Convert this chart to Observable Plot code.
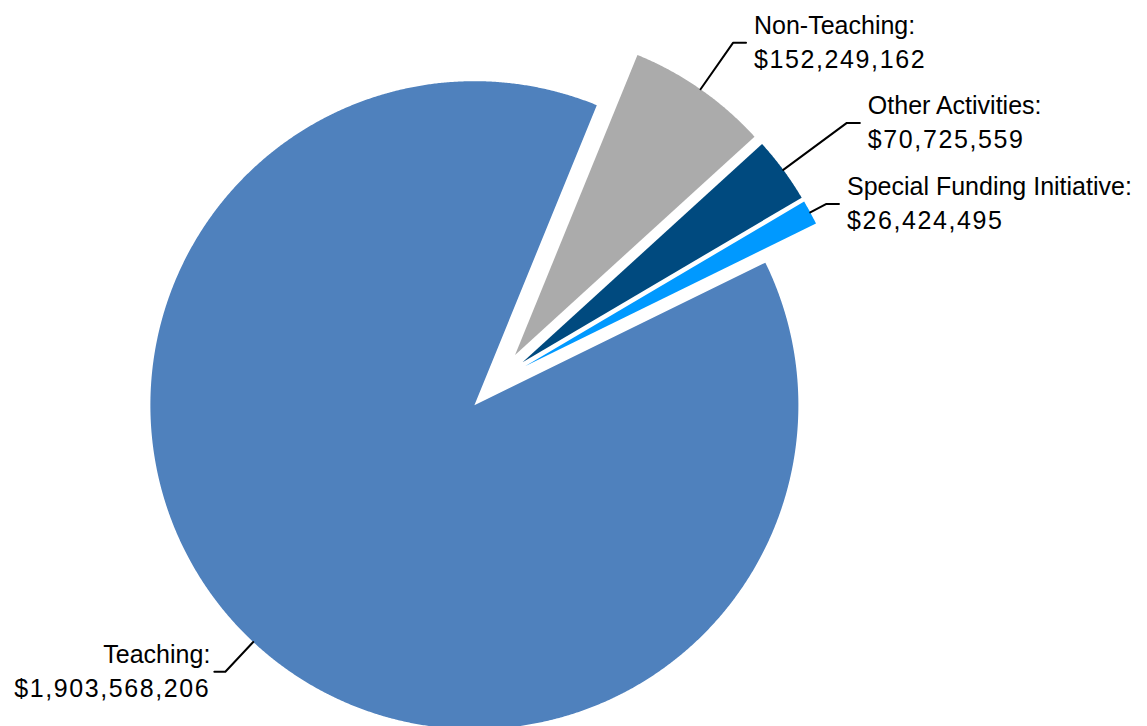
<!DOCTYPE html>
<html><head><meta charset="utf-8">
<script src="https://cdn.jsdelivr.net/npm/d3@7"></script>
<script src="https://cdn.jsdelivr.net/npm/@observablehq/plot@0.6"></script>
<style>body{margin:0;background:#fff;} #chart svg{display:block}</style>
</head><body><div id="chart"></div>
<script>
// ---- data ----
const categories = ["Teaching", "Non-Teaching", "Other Activities", "Special Funding Initiative"];
const values = [1903568206, 152249162, 70725559, 26424495];
const valueLabels = ["$1,903,568,206", "$152,249,162", "$70,725,559", "$26,424,495"];
const colors = ["#4F81BD", "#ABABAB", "#004A7F", "#0099FF"];

// ---- layout ----
const W = 1147, H = 726, cx = 496, cy = 381, R = 324;
const startDeg = 63.9;
const explode = 0.1;
const leaderRadius = [1.126, 1.175, 1.244, 1.055];
const hookPx = [11, 13, 13, 13];

const a0 = startDeg * Math.PI / 180;
const pie = d3.pie().sort(null).value(d => d.value).startAngle(a0).endAngle(a0 + 2 * Math.PI);
const rows = categories.map((name, i) => ({name, value: values[i], label: valueLabels[i], lr: leaderRadius[i], hook: hookPx[i] / R}));
const arcs = pie(rows);

const slicePts = [], leaderPts = [], labels = [];
arcs.forEach(a => {
  const name = a.data.name;
  const mid = (a.startAngle + a.endAngle) / 2;
  const ox = explode * Math.sin(mid), oy = explode * Math.cos(mid);
  slicePts.push({name, x: ox, y: oy});
  const n = Math.max(2, Math.ceil((a.endAngle - a.startAngle) / (Math.PI / 720)));
  for (let k = 0; k <= n; k++) {
    const t = a.startAngle + (a.endAngle - a.startAngle) * k / n;
    slicePts.push({name, x: ox + Math.sin(t), y: oy + Math.cos(t)});
  }
  const right = Math.sin(mid) >= 0;
  const ex = ox + a.data.lr * Math.sin(mid), ey = oy + a.data.lr * Math.cos(mid);
  const hx = ex + (right ? a.data.hook : -a.data.hook);
  leaderPts.push({name, x: ox + Math.sin(mid), y: oy + Math.cos(mid)}, {name, x: ex, y: ey}, {name, x: hx, y: ey});
  labels.push({name, x: hx, y: ey, text: `${name}:\n${a.data.label}`, right});
});

const textOpts = {x: "x", y: "y", text: "text", lineAnchor: "middle", lineHeight: 1.38, fontSize: 25, fill: "black"};

const chart = Plot.plot({
  width: W, height: H, margin: 0,
  x: {domain: [-cx / R, (W - cx) / R], axis: null},
  y: {domain: [-(H - cy) / R, cy / R], axis: null},
  color: {domain: categories, range: colors},
  style: {fontFamily: "'Liberation Sans', Arial, sans-serif", background: "white"},
  marks: [
    Plot.line(slicePts, {x: "x", y: "y", z: "name", fill: "name", stroke: "none", curve: "linear-closed"}),
    Plot.line(leaderPts, {x: "x", y: "y", z: "name", stroke: "black", strokeWidth: 2}),
    Plot.text(labels.filter(d => d.right), {...textOpts, textAnchor: "start", dx: 8, dy: -3}),
    Plot.text(labels.filter(d => !d.right), {...textOpts, textAnchor: "end", dx: -4, dy: -3})
  ]
});
d3.select(chart).selectAll("text tspan:nth-child(2)").attr("letter-spacing", "1.6px");
document.getElementById("chart").append(chart);
</script>
</body></html>
